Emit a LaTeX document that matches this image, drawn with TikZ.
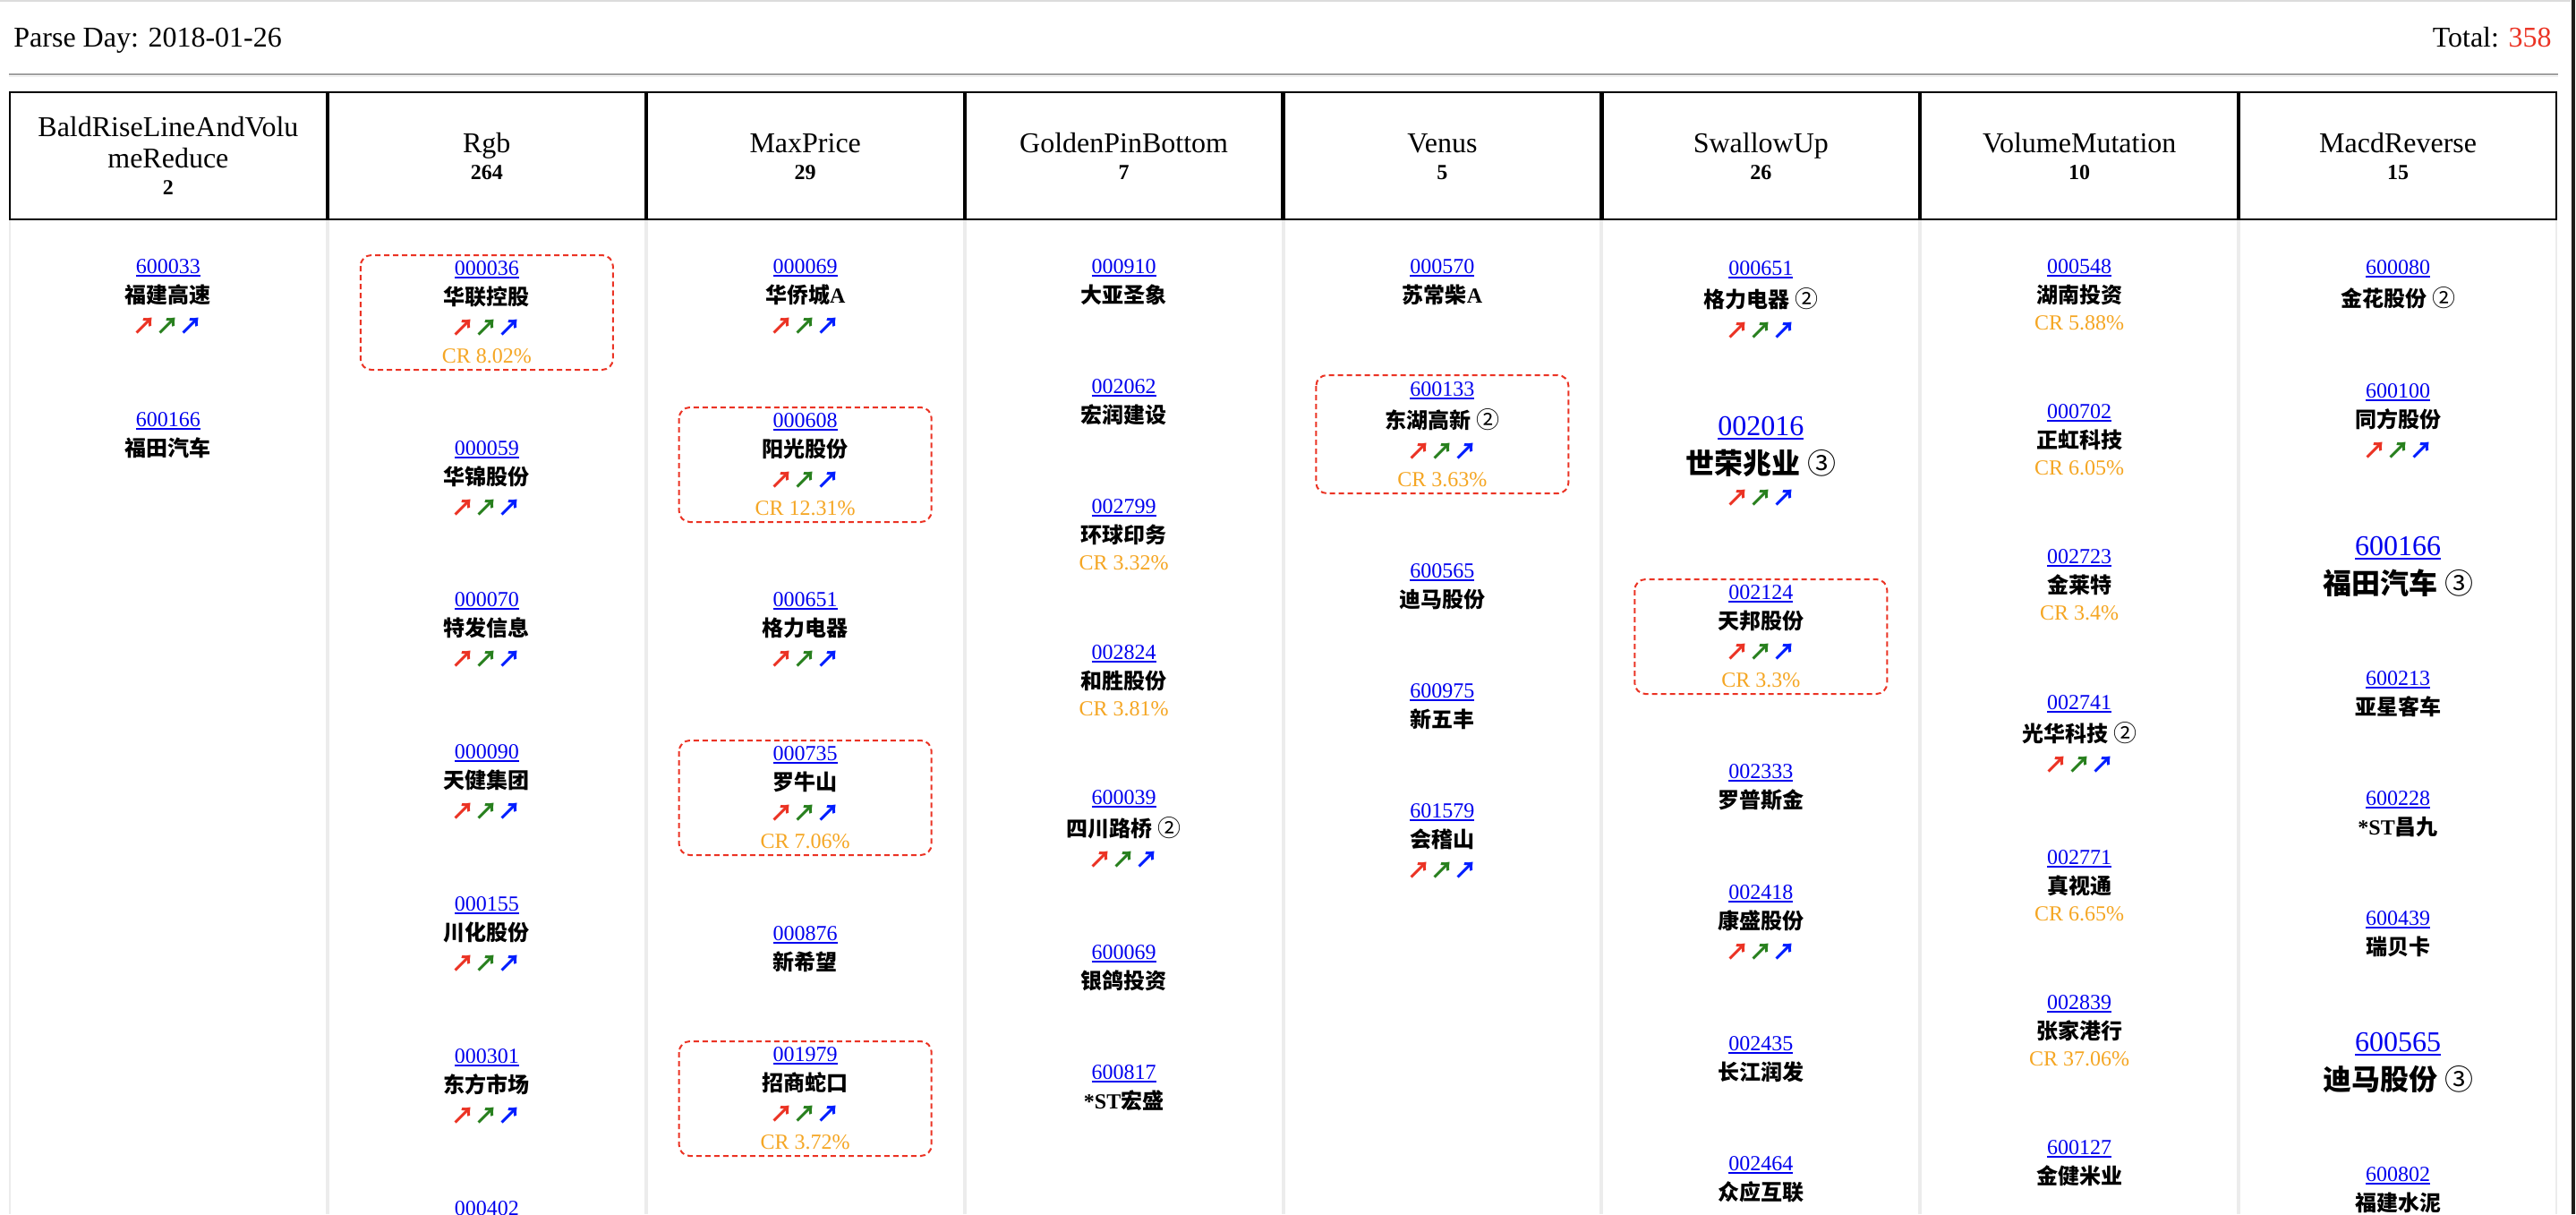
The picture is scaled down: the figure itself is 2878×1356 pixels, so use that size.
\documentclass[tikz,border=0pt]{standalone}
\usepackage{fontspec}
\setmainfont{Liberation Serif}
\newfontfamily\cjk{Noto Sans CJK SC}
\definecolor{lnk}{RGB}{0,0,238}
\definecolor{ared}{RGB}{235,51,36}
\definecolor{agreen}{RGB}{40,128,30}
\definecolor{ablue}{RGB}{0,30,255}
\definecolor{crc}{RGB}{245,166,35}
\definecolor{boxred}{RGB}{235,51,36}
\definecolor{tot}{RGB}{235,51,36}
\definecolor{hrd}{RGB}{160,160,160}
\definecolor{hrl}{RGB}{236,236,236}
\definecolor{topl}{RGB}{220,220,220}
\definecolor{cellg}{RGB}{236,236,236}
\definecolor{edgebar}{RGB}{30,30,26}
\newcommand\ucode[1]{\setbox0=\hbox{#1}\rlap{\vrule height -0.09em depth 0.155em width \wd0}\box0}
\newcommand\cn[1]{{\cjk\bfseries #1}}
\newcommand\arrs{{\cjk\bfseries\color{ared}↗}{\cjk\bfseries\color{agreen}↗}{\cjk\bfseries\color{ablue}↗}}
\newcommand\circn[1]{{\cjk\fontsize{13}{15}\selectfont #1}}
\tikzset{
 txt/.style={inner sep=0pt, anchor=base},
 codet/.style={txt, font=\fontsize{12}{14}\selectfont, text=lnk},
 bigcodet/.style={txt, font=\fontsize{16}{18}\selectfont, text=lnk},
 namet/.style={txt, font=\fontsize{12}{14}\selectfont},
 bignamet/.style={txt, font=\fontsize{16}{18}\selectfont},
 arrt/.style={txt, font=\fontsize{13}{15}\selectfont},
 crt/.style={txt, font=\fontsize{12}{14}\selectfont, text=crc},
 crbox/.style={draw=boxred, line width=1pt, dash pattern=on 3pt off 2pt, rounded corners=6pt},
 hcell/.style={draw=black, line width=1.1pt},
 htitle/.style={txt, font=\fontsize{16}{18}\selectfont},
 hcount/.style={txt, font=\fontsize{12}{14}\selectfont\bfseries},
}
\newcommand\stk[8]{%
  \node[codet] (#1c) at (#2,#3+8) {\ucode{#4}};
  \node[namet] (#1n) at (#2,#3+#6+9) {#5};
  \ifnum#7=1
    \node[arrt] (#1a) at (#2,#3+#6+44) {\arrs};
    \if\relax\detokenize{#8}\relax\else
      \node[crt] (#1r) at (#2,#3+#6+74) {#8};
    \fi
  \else
    \if\relax\detokenize{#8}\relax\else
      \node[crt] (#1r) at (#2,#3+#6+39) {#8};
    \fi
  \fi
}
\newcommand\bigstk[6]{%
  \node[bigcodet] (#1c) at (#2,#3+11) {\ucode{#4}};
  \node[bignamet] (#1n) at (#2,#3+54) {#5};
  \ifnum#6=1 \node[arrt] (#1a) at (#2,#3+90) {\arrs};\fi
}
\newcommand\crframe[3]{\draw[crbox] (#1-141,#2) rectangle (#1+141,#3);}
\begin{document}
\begin{tikzpicture}[x=0.5pt,y=-0.5pt]
\useasboundingbox (0,0) rectangle (2878,1356);
\fill[white] (0,0) rectangle (2878,1356);
\clip (0,0) rectangle (2878,1356);
% top line, bar, hr
\draw[topl, line width=1pt] (0,1) -- (2872,1);
\fill[edgebar] (2873,0) rectangle (2877,1356);
\draw[hrd, line width=1pt] (10,83) -- (2858,83);
\draw[hrl, line width=0.75pt] (10,85.5) -- (2858,85.5);
% title
\node[htitle, anchor=base west] (pd) at (15,52) {Parse Day: 2018-01-26};
\node[htitle, anchor=base east] (tot) at (2851,52) {Total: \textcolor{tot}{358}};
% body column lines
\foreach \bx/\w in {11/1pt,365.9/2pt,721.75/2pt,1077.6/2pt,1433.5/2pt,1789.4/2pt,2145.25/2pt,2501.1/2pt,2856/1pt}
  \draw[cellg, line width=\w] (\bx,246) -- (\bx,1356);
% header cells
\foreach \l/\r in {10/365.9,365.9/721.75,721.75/1077.6,1077.6/1433.5,1433.5/1789.4,1789.4/2145.25,2145.25/2501.1,2501.1/2857}
  \draw[hcell] (\l+1,103) rectangle (\r-1,245);
% header texts
\node[htitle] (t1a) at (187.9,152) {BaldRiseLineAndVolu};
\node[htitle] (t1b) at (187.9,187) {meReduce};
\node[hcount] (n1) at (187.9,217) {2};
\node[htitle] (t2) at (543.8,170) {Rgb};
\node[hcount] (n2) at (543.8,200) {264};
\node[htitle] (t3) at (899.7,170) {MaxPrice};
\node[hcount] (n3) at (899.7,200) {29};
\node[htitle] (t4) at (1255.6,170) {GoldenPinBottom};
\node[hcount] (n4) at (1255.6,200) {7};
\node[htitle] (t5) at (1611.4,170) {Venus};
\node[hcount] (n5) at (1611.4,200) {5};
\node[htitle] (t6) at (1967.3,170) {SwallowUp};
\node[hcount] (n6) at (1967.3,200) {26};
\node[htitle] (t7) at (2323.2,170) {VolumeMutation};
\node[hcount] (n7) at (2323.2,200) {10};
\node[htitle] (t8) at (2679.1,170) {MacdReverse};
\node[hcount] (n8) at (2679.1,200) {15};
% column 1
\stk{a1}{187.9}{297}{600033}{\cn{福建高速}}{32}{1}{}
\stk{a2}{187.9}{468}{600166}{\cn{福田汽车}}{32}{0}{}
% column 2
\crframe{543.8}{285}{413}
\stk{b1}{543.8}{299}{000036}{\cn{华联控股}}{32}{1}{CR 8.02\%}
\stk{b2}{543.8}{500}{000059}{\cn{华锦股份}}{32}{1}{}
\stk{b3}{543.8}{669}{000070}{\cn{特发信息}}{32}{1}{}
\stk{b4}{543.8}{839}{000090}{\cn{天健集团}}{32}{1}{}
\stk{b5}{543.8}{1009}{000155}{\cn{川化股份}}{32}{1}{}
\stk{b6}{543.8}{1179}{000301}{\cn{东方市场}}{32}{1}{}
\node[codet] (b7c) at (543.8,1357) {\ucode{000402}};
% column 3
\stk{c1}{899.7}{297}{000069}{\cn{华侨城}{\bfseries A}}{32}{1}{}
\crframe{899.7}{455}{583}
\stk{c2}{899.7}{469}{000608}{\cn{阳光股份}}{32}{1}{CR 12.31\%}
\stk{c3}{899.7}{669}{000651}{\cn{格力电器}}{32}{1}{}
\crframe{899.7}{827}{955}
\stk{c4}{899.7}{841}{000735}{\cn{罗牛山}}{32}{1}{CR 7.06\%}
\stk{c5}{899.7}{1042}{000876}{\cn{新希望}}{32}{0}{}
\crframe{899.7}{1163}{1291}
\stk{c6}{899.7}{1177}{001979}{\cn{招商蛇口}}{32}{1}{CR 3.72\%}
% column 4
\stk{d1}{1255.6}{297}{000910}{\cn{大亚圣象}}{32}{0}{}
\stk{d2}{1255.6}{431}{002062}{\cn{宏润建设}}{32}{0}{}
\stk{d3}{1255.6}{565}{002799}{\cn{环球印务}}{32}{0}{CR 3.32\%}
\stk{d4}{1255.6}{728}{002824}{\cn{和胜股份}}{32}{0}{CR 3.81\%}
\stk{d5}{1255.6}{890}{600039}{\cn{四川路桥}\ \circn{②}}{35}{1}{}
\stk{d6}{1255.6}{1063}{600069}{\cn{银鸽投资}}{32}{0}{}
\stk{d7}{1255.6}{1197}{600817}{{\bfseries *ST}\cn{宏盛}}{32}{0}{}
% column 5
\stk{e1}{1611.4}{297}{000570}{\cn{苏常柴}{\bfseries A}}{32}{0}{}
\crframe{1611.4}{419}{551}
\stk{e2}{1611.4}{434}{600133}{\cn{东湖高新}\ \circn{②}}{35}{1}{CR 3.63\%}
\stk{e3}{1611.4}{637}{600565}{\cn{迪马股份}}{32}{0}{}
\stk{e4}{1611.4}{771}{600975}{\cn{新五丰}}{32}{0}{}
\stk{e5}{1611.4}{905}{601579}{\cn{会稽山}}{32}{1}{}
% column 6
\stk{f1}{1967.3}{299}{000651}{\cn{格力电器}\ \circn{②}}{35}{1}{}
\bigstk{f2}{1967.3}{475}{002016}{\cn{世荣兆业}\ {\cjk ③}}{1}
\crframe{1967.3}{647}{775}
\stk{f3}{1967.3}{661}{002124}{\cn{天邦股份}}{32}{1}{CR 3.3\%}
\stk{f4}{1967.3}{861}{002333}{\cn{罗普斯金}}{32}{0}{}
\stk{f5}{1967.3}{996}{002418}{\cn{康盛股份}}{32}{1}{}
\stk{f6}{1967.3}{1165}{002435}{\cn{长江润发}}{32}{0}{}
\stk{f7}{1967.3}{1299}{002464}{\cn{众应互联}}{32}{0}{}
% column 7
\stk{g1}{2323.2}{297}{000548}{\cn{湖南投资}}{32}{0}{CR 5.88\%}
\stk{g2}{2323.2}{459}{000702}{\cn{正虹科技}}{32}{0}{CR 6.05\%}
\stk{g3}{2323.2}{621}{002723}{\cn{金莱特}}{32}{0}{CR 3.4\%}
\stk{g4}{2323.2}{784}{002741}{\cn{光华科技}\ \circn{②}}{35}{1}{}
\stk{g5}{2323.2}{957}{002771}{\cn{真视通}}{32}{0}{CR 6.65\%}
\stk{g6}{2323.2}{1119}{002839}{\cn{张家港行}}{32}{0}{CR 37.06\%}
\stk{g7}{2323.2}{1281}{600127}{\cn{金健米业}}{32}{0}{}
% column 8
\stk{h1}{2679.1}{298}{600080}{\cn{金花股份}\ \circn{②}}{35}{0}{}
\stk{h2}{2679.1}{436}{600100}{\cn{同方股份}}{32}{1}{}
\bigstk{h3}{2679.1}{609}{600166}{\cn{福田汽车}\ {\cjk ③}}{0}
\stk{h4}{2679.1}{757}{600213}{\cn{亚星客车}}{32}{0}{}
\stk{h5}{2679.1}{891}{600228}{{\bfseries *ST}\cn{昌九}}{32}{0}{}
\stk{h6}{2679.1}{1025}{600439}{\cn{瑞贝卡}}{32}{0}{}
\bigstk{h7}{2679.1}{1163}{600565}{\cn{迪马股份}\ {\cjk ③}}{0}
\stk{h8}{2679.1}{1311}{600802}{\cn{福建水泥}}{32}{0}{}
\end{tikzpicture}
\end{document}
